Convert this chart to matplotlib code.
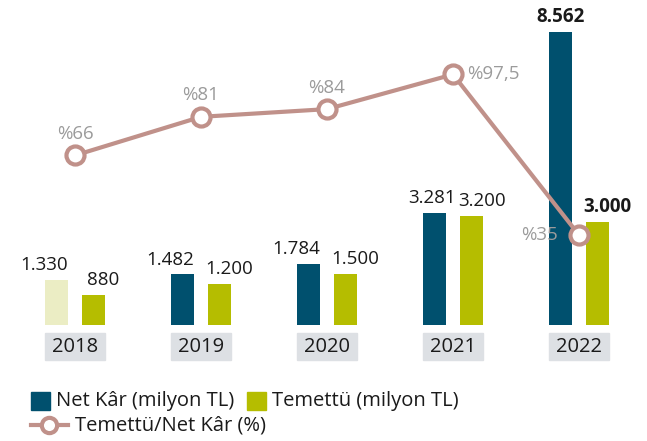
import matplotlib

matplotlib.use("Agg")
import matplotlib.pyplot as plt  # noqa: E402
import numpy as np  # noqa: E402
from matplotlib.patches import Rectangle  # noqa: E402
from matplotlib.lines import Line2D  # noqa: E402
import matplotlib.transforms as mtransforms  # noqa: E402

years = ["2018", "2019", "2020", "2021", "2022"]
net_kar = [1330, 1482, 1784, 3281, 8562]
temettu = [880, 1200, 1500, 3200, 3000]
oran = [66, 81, 84, 97.5, 35]
net_labels = ["1.330", "1.482", "1.784", "3.281", "8.562"]
tem_labels = ["880", "1.200", "1.500", "3.200", "3.000"]
oran_labels = ["%66", "%81", "%84", "%97,5", "%35"]

NET = "#00506e"
NET_PALE = "#ebedc4"
TEM = "#b5bd00"
LINE = "#c0918a"
GREY_TXT = "#9b9b9b"
BOX = "#dde0e4"
TXT = "#1a1a1a"

plt.rcParams["font.family"] = ["Open Sans", "DejaVu Sans"]
FS = 13.5
FS_BIG = 14.5

fig = plt.figure(figsize=(6.47, 4.41), dpi=100)
ax = fig.add_axes([0, 116 / 441, 1, 325 / 441])
ax2 = ax.twinx()

x = np.arange(len(years))
w = 0.18
off = 0.147
net_colors = [NET_PALE] + [NET] * (len(years) - 1)
ax.bar(x - off, net_kar, w, color=net_colors, zorder=1)
ax.bar(x + off, temettu, w, color=TEM, zorder=1)
ax.set_xlim(-75 / 126, (647 - 75) / 126)
ax.set_ylim(0, 325 / 0.0342)
ax2.set_ylim(0, 325 / 2.57)

last = len(years) - 1
for i in x:
    bold = "bold" if i == last else "normal"
    dx_n = -0.1 if i < 3 else (-0.02 if i == 3 else 0)
    ax.annotate(net_labels[i], (i - off + dx_n, net_kar[i]), xytext=(0, 4),
                textcoords="offset points", ha="center", va="bottom",
                fontsize=FS, fontweight=bold, color=TXT)
    ax.annotate(tem_labels[i], (i + off + 0.08, temettu[i]), xytext=(0, 4),
                textcoords="offset points", ha="center", va="bottom",
                fontsize=FS, fontweight=bold, color=TXT)

ax2.plot(x, oran, color=LINE, lw=3, marker="o", ms=13, mfc="white",
         mec=LINE, mew=3, zorder=3)
for i in x:
    if i == 3:
        ax2.annotate(oran_labels[i], (i, oran[i]), xytext=(10, 0),
                     textcoords="offset points", ha="left", va="center",
                     fontsize=FS, color=GREY_TXT)
    elif i == 4:
        ax2.annotate(oran_labels[i], (i, oran[i]), xytext=(-15, 0),
                     textcoords="offset points", ha="right", va="center",
                     fontsize=FS, color=GREY_TXT)
    else:
        ax2.annotate(oran_labels[i], (i, oran[i]), xytext=(0, 9),
                     textcoords="offset points", ha="center", va="bottom",
                     fontsize=FS, color=GREY_TXT)

# year boxes under the axis
trans = mtransforms.blended_transform_factory(ax.transData, ax.transAxes)
for i, yr in enumerate(years):
    ax.add_patch(Rectangle((i - 0.238, -35 / 325), 0.476, 27 / 325,
                           transform=trans, color=BOX, clip_on=False))
    ax.text(i, -22 / 325, yr, transform=trans, ha="center", va="center",
            fontsize=FS_BIG, color=TXT)

for a in (ax, ax2):
    a.axis("off")

# legend, drawn by hand
fig.add_artist(Rectangle((31 / 647, 1 - 410 / 441), 19 / 647, 18 / 441,
                         transform=fig.transFigure, color=NET))
fig.text(56 / 647, 1 - 401 / 441, "Net Kâr (milyon TL)", ha="left",
         va="center", fontsize=FS_BIG, color=TXT)
fig.add_artist(Rectangle((247 / 647, 1 - 410 / 441), 19 / 647, 18 / 441,
                         transform=fig.transFigure, color=TEM))
fig.text(272 / 647, 1 - 401 / 441, "Temettü (milyon TL)", ha="left",
         va="center", fontsize=FS_BIG, color=TXT)
fig.add_artist(Line2D([31 / 647, 68 / 647], [1 - 425 / 441] * 2,
                      transform=fig.transFigure, color=LINE, lw=3))
fig.add_artist(Line2D([49 / 647], [1 - 425 / 441], transform=fig.transFigure,
                      color=LINE, marker="o", ms=11, mfc="white", mec=LINE,
                      mew=3))
fig.text(75 / 647, 1 - 425 / 441, "Temettü/Net Kâr (%)", ha="left",
         va="center", fontsize=FS_BIG, color=TXT)

fig.savefig("out.png", dpi=100)
